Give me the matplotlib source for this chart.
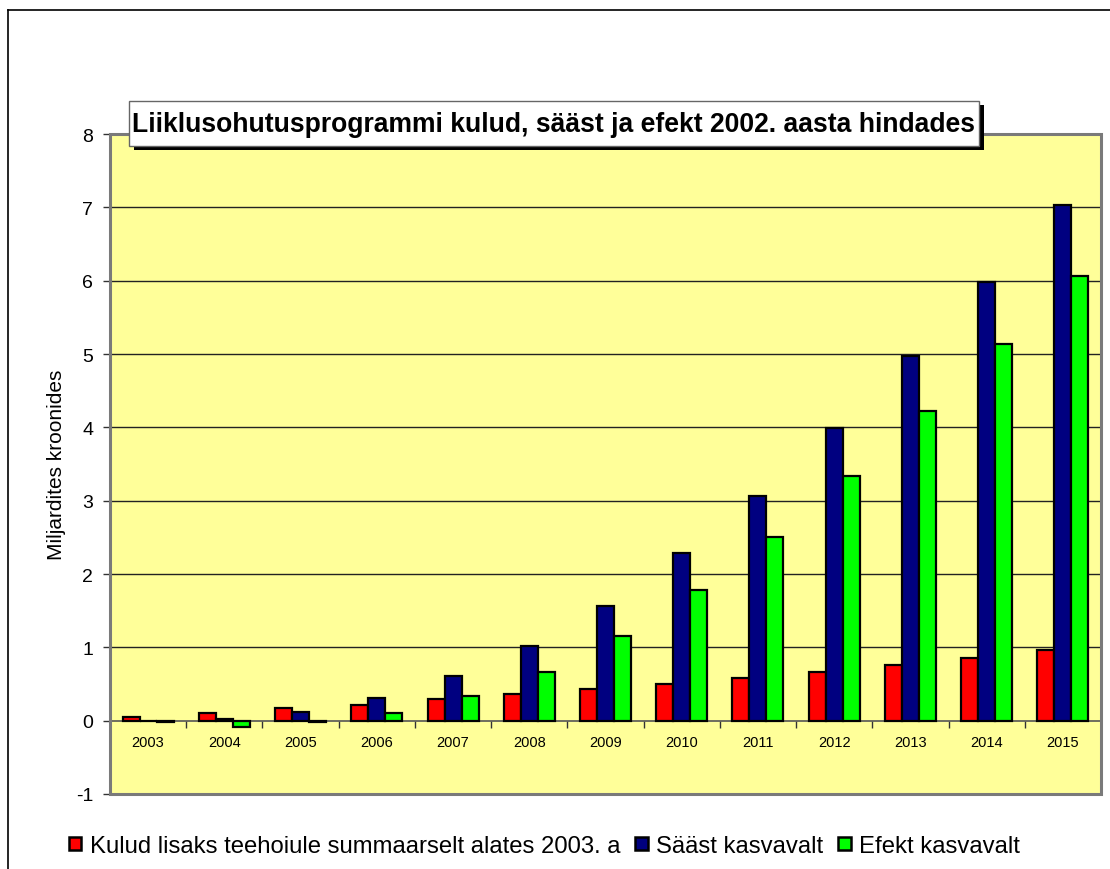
import matplotlib
matplotlib.use("Agg")
import matplotlib.pyplot as plt
from matplotlib.patches import Rectangle, Patch
from matplotlib.lines import Line2D
import numpy as np

plt.rcParams['font.family'] = ['Liberation Sans', 'DejaVu Sans']
plt.rcParams['axes.unicode_minus'] = False

years = ['2003', '2004', '2005', '2006', '2007', '2008', '2009', '2010',
         '2011', '2012', '2013', '2014', '2015']
kulud = [0.05, 0.10, 0.17, 0.22, 0.29, 0.36, 0.43, 0.50, 0.58, 0.67, 0.76, 0.86, 0.96]
saast = [0.00, 0.02, 0.12, 0.31, 0.61, 1.02, 1.57, 2.28, 3.07, 3.99, 4.97, 5.98, 7.03]
efekt = [-0.02, -0.08, -0.02, 0.10, 0.33, 0.67, 1.15, 1.78, 2.51, 3.33, 4.22, 5.14, 6.06]

series_names = ['Kulud lisaks teehoiule summaarselt alates 2003. a',
                'Sääst kasvavalt', 'Efekt kasvavalt']
colors = ['#FF0000', '#000080', '#00FF00']
title = 'Liiklusohutusprogrammi kulud, sääst ja efekt 2002. aasta hindades'
ylabel = 'Miljardites kroonides'

W, H = 1110, 870
fig = plt.figure(figsize=(W / 100, H / 100), dpi=100)
fig.patch.set_facecolor('white')

ax = fig.add_axes([110 / W, 1 - 795 / H, (1101 - 110) / W, (795 - 135) / H])
ax.set_facecolor('#FFFF99')

x = np.arange(len(years))
bw = 0.223
for i, (vals, c) in enumerate(zip([kulud, saast, efekt], colors)):
    ax.bar(x + (i - 1) * bw, vals, width=bw, color=c, edgecolor='black',
           linewidth=1.6, zorder=3)

ax.set_xlim(-0.5, len(years) - 0.5)
ax.set_ylim(-1, 8)
ax.set_yticks(range(-1, 9))
ax.tick_params(axis='y', labelsize=14, length=5, width=1, color='#333333', pad=7)
for yv in range(1, 9):
    ax.axhline(yv, color='#222222', linewidth=1.0, zorder=1)

for s in ['top', 'right', 'left']:
    ax.spines[s].set_visible(False)
ax.spines['bottom'].set_position(('data', 0))
ax.spines['bottom'].set_color('#555555')
ax.spines['bottom'].set_linewidth(1.2)
ax.spines['bottom'].set_zorder(2)

ax.set_xticks(x)
ax.set_xticklabels(years)
ax.set_xticks(x[:-1] + 0.5, minor=True)
ax.tick_params(axis='x', which='major', length=0, labelsize=10.5, pad=10)
ax.tick_params(axis='x', which='minor', length=5, width=1, color='#333333', direction='out')

frame = Rectangle((0, 0), 1, 1, transform=ax.transAxes, fill=False,
                  edgecolor='#7a7a7a', linewidth=2.2, clip_on=False, zorder=5)
ax.add_patch(frame)

ax.set_ylabel(ylabel, fontsize=15, labelpad=7)

# figure border
fig.add_artist(Line2D([8 / W, 8 / W], [0, 1 - 11 / H], transform=fig.transFigure,
                      color='black', linewidth=1.2))
fig.add_artist(Line2D([8 / W, 1], [1 - 11 / H, 1 - 11 / H], transform=fig.transFigure,
                      color='black', linewidth=1.2))

# title box with shadow
bx0, bx1, by0, by1 = 129, 979, 102, 147
fig.add_artist(Rectangle((bx0 / W + 5 / W, 1 - (by1 + 4) / H), (bx1 - bx0) / W, (by1 - by0) / H,
                         transform=fig.transFigure, facecolor='black', edgecolor='black',
                         linewidth=0, zorder=10))
fig.add_artist(Rectangle((bx0 / W, 1 - by1 / H), (bx1 - bx0) / W, (by1 - by0) / H,
                         transform=fig.transFigure, facecolor='white', edgecolor='#666666',
                         linewidth=1.0, zorder=11))
t = fig.text((bx0 + bx1) / 2 / W, 1 - (by0 + by1) / 2 / H, title, ha='center', va='center',
             fontsize=16, fontweight='bold', zorder=12)
fig.canvas.draw()
wpx = t.get_window_extent().width
t.set_fontsize(16 * 842 / wpx)

handles = [Patch(facecolor=c, edgecolor='black', linewidth=1.8) for c in colors]
fig.legend(handles, series_names, loc='center left', bbox_to_anchor=(69 / W, 1 - 847 / H),
           ncol=3, frameon=False, fontsize=17.2, handlelength=0.52, handleheight=0.52,
           handletextpad=0.36, columnspacing=0.62, borderaxespad=0, borderpad=0)

fig.savefig('out.png', dpi=100)
